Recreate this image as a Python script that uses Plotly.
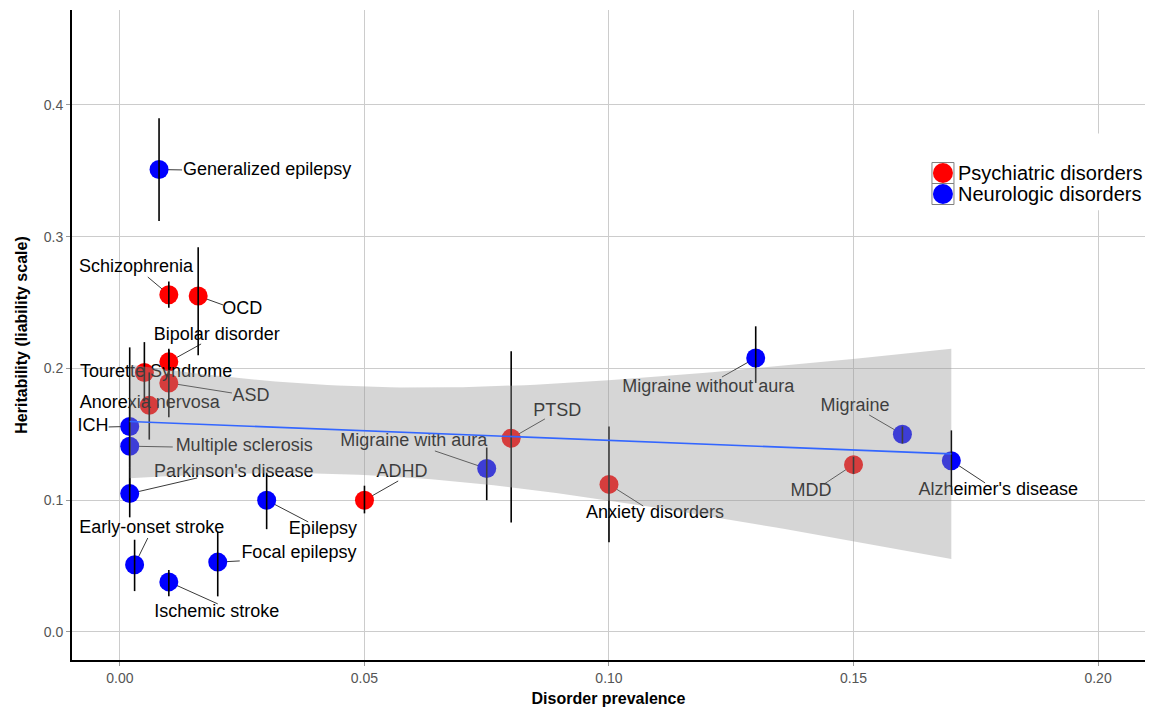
import numpy as np
import plotly.graph_objects as go

# Disorders: prevalence vs SNP heritability (liability scale) with 95% intervals
disorders = [
    "Generalized epilepsy", "Schizophrenia", "OCD", "Bipolar disorder",
    "Tourette Syndrome", "ASD", "Anorexia nervosa", "ICH",
    "Multiple sclerosis", "Parkinson's disease", "Early-onset stroke",
    "Ischemic stroke", "Focal epilepsy", "Epilepsy", "ADHD",
    "Migraine with aura", "PTSD", "Anxiety disorders",
    "Migraine without aura", "Migraine", "MDD", "Alzheimer's disease",
]
group = [
    "Neurologic", "Psychiatric", "Psychiatric", "Psychiatric",
    "Psychiatric", "Psychiatric", "Psychiatric", "Neurologic",
    "Neurologic", "Neurologic", "Neurologic",
    "Neurologic", "Neurologic", "Neurologic", "Psychiatric",
    "Neurologic", "Psychiatric", "Psychiatric",
    "Neurologic", "Neurologic", "Psychiatric", "Neurologic",
]
prevalence = [
    0.008, 0.010, 0.016, 0.010,
    0.005, 0.010, 0.006, 0.002,
    0.002, 0.002, 0.003,
    0.010, 0.020, 0.030, 0.050,
    0.075, 0.080, 0.100,
    0.130, 0.160, 0.150, 0.170,
]
heritability = [
    0.351, 0.256, 0.255, 0.205,
    0.197, 0.189, 0.172, 0.156,
    0.141, 0.105, 0.051,
    0.038, 0.053, 0.100, 0.100,
    0.124, 0.147, 0.112,
    0.208, 0.150, 0.127, 0.130,
]
h2_low = [
    0.312, 0.246, 0.210, 0.195,
    0.175, 0.163, 0.146, 0.125,
    0.110, 0.087, 0.031,
    0.027, 0.027, 0.078, 0.090,
    0.100, 0.083, 0.068,
    0.189, 0.143, 0.120, 0.110,
]
h2_high = [
    0.390, 0.266, 0.292, 0.215,
    0.220, 0.214, 0.197, 0.216,
    0.172, 0.125, 0.070,
    0.047, 0.076, 0.121, 0.111,
    0.140, 0.213, 0.156,
    0.232, 0.156, 0.133, 0.153,
]

# Repelled label placement (label centre) and where each leader line meets the label
label_x = [
    0.0301, 0.0033, 0.0250, 0.0198,
    0.0074, 0.0268, 0.0061, -0.0055,
    0.0254, 0.0233, 0.0065,
    0.0198, 0.0366, 0.0415, 0.0577,
    0.0601, 0.0894, 0.1094,
    0.1203, 0.1503, 0.1413, 0.1796,
]
label_y = [
    0.3499, 0.2770, 0.2444, 0.2254,
    0.1973, 0.1791, 0.1731, 0.1556,
    0.1404, 0.1214, 0.0782,
    0.0144, 0.0592, 0.0774, 0.1214,
    0.1442, 0.1677, 0.0896,
    0.1852, 0.1708, 0.1063, 0.1070,
]
leader_x = [
    0.0127, 0.0057, 0.0211, 0.0166,
    None, 0.0229, None, -0.0023,
    0.0108, 0.0158, 0.0057,
    0.0200, 0.0245, 0.0385, 0.0569,
    0.0644, 0.0869, 0.1070,
    0.1231, 0.1532, 0.1440, 0.1769,
]
leader_y = [
    0.3507, 0.2694, 0.2482, 0.2186,
    None, 0.1814, None, 0.1556,
    0.1404, 0.1169, 0.0713,
    0.0213, 0.0539, 0.0835, 0.1146,
    0.1374, 0.1617, 0.0956,
    0.1935, 0.1647, 0.1123, 0.1131,
]

legend_groups = ["Psychiatric", "Neurologic"]
legend_names = ["Psychiatric disorders", "Neurologic disorders"]
legend_colors = ["#ff0000", "#0000ff"]

FONT = "Liberation Sans, Arial, sans-serif"
fig = go.Figure()

# leader lines (drawn under the points)
seg_x, seg_y = [], []
for px, py, lx, ly in zip(prevalence, heritability, leader_x, leader_y):
    if lx is None:
        continue
    seg_x += [px, lx, None]
    seg_y += [py, ly, None]
fig.add_trace(go.Scatter(
    x=seg_x, y=seg_y, mode="lines",
    line=dict(color="#3a3a3a", width=1), hoverinfo="skip", showlegend=False,
))

# points, one trace per disorder group
for key, name, color in zip(legend_groups, legend_names, legend_colors):
    idx = [i for i, g in enumerate(group) if g == key]
    fig.add_trace(go.Scatter(
        x=[prevalence[i] for i in idx],
        y=[heritability[i] for i in idx],
        text=[disorders[i] for i in idx],
        mode="markers", name=name, showlegend=False,
        marker=dict(color=color, size=19, line=dict(width=0)),
        hovertemplate="%{text}<br>prevalence %{x}<br>h2 %{y}<extra></extra>",
    ))

# vertical interval bars
bar_x, bar_y = [], []
for px, lo, hi in zip(prevalence, h2_low, h2_high):
    bar_x += [px, px, None]
    bar_y += [lo, hi, None]
fig.add_trace(go.Scatter(
    x=bar_x, y=bar_y, mode="lines",
    line=dict(color="#000000", width=1.6), hoverinfo="skip", showlegend=False,
))

# disorder names
fig.add_trace(go.Scatter(
    x=label_x, y=label_y, text=disorders, mode="text",
    textposition="middle center",
    textfont=dict(family=FONT, size=18, color="#000000"),
    hoverinfo="skip", showlegend=False,
))

# least-squares fit with 95% confidence band
x = np.asarray(prevalence)
y = np.asarray(heritability)
n = len(x)
slope, intercept = np.polyfit(x, y, 1)
resid = y - (intercept + slope * x)
s = np.sqrt(np.sum(resid ** 2) / (n - 2))
sxx = np.sum((x - x.mean()) ** 2)
t_crit = 2.086  # t(0.975, df = 20)
xs = np.linspace(x.min(), x.max(), 80)
fit = intercept + slope * xs
half = t_crit * s * np.sqrt(1.0 / n + (xs - x.mean()) ** 2 / sxx)

fig.add_trace(go.Scatter(
    x=np.concatenate([xs, xs[::-1]]),
    y=np.concatenate([fit + half, (fit - half)[::-1]]),
    mode="lines", fill="toself", fillcolor="rgba(153,153,153,0.4)",
    line=dict(width=0), hoverinfo="skip", showlegend=False,
))
fig.add_trace(go.Scatter(
    x=xs, y=fit, mode="lines",
    line=dict(color="#3366ff", width=1.6), hoverinfo="skip", showlegend=False,
))

# legend box: white panel, bordered keys with a filled circle, and labels
shapes = [dict(
    type="rect", xref="paper", yref="paper", layer="above",
    x0=0.795, x1=1.0, y0=0.692, y1=0.81,
    fillcolor="white", line=dict(width=0),
)]
annotations = []
key_x = 0.8117            # key centre (paper)
key_y = [0.7492, 0.7169]  # row centres (paper)
for ky, name, color in zip(key_y, legend_names, legend_colors):
    shapes.append(dict(
        type="rect", xref="paper", yref="paper", layer="above",
        xsizemode="pixel", ysizemode="pixel", xanchor=key_x, yanchor=ky,
        x0=-11, x1=11, y0=-10.5, y1=10.5,
        fillcolor="white", line=dict(color="#7f7f7f", width=1),
    ))
    shapes.append(dict(
        type="circle", xref="paper", yref="paper", layer="above",
        xsizemode="pixel", ysizemode="pixel", xanchor=key_x, yanchor=ky,
        x0=-10, x1=10, y0=-10, y1=10,
        fillcolor=color, line=dict(width=0),
    ))
    annotations.append(dict(
        xref="paper", yref="paper", x=0.8238, y=ky,
        xanchor="left", yanchor="middle", showarrow=False,
        text=name, font=dict(family=FONT, size=20, color="#000000"),
    ))

x_ticks = [0.0, 0.05, 0.10, 0.15, 0.20]
x_ticktext = ["0.00", "0.05", "0.10", "0.15", "0.20"]
y_ticks = [0.0, 0.1, 0.2, 0.3, 0.4]
y_ticktext = ["0.0", "0.1", "0.2", "0.3", "0.4"]

axis_common = dict(
    showgrid=True, gridcolor="#cccccc", gridwidth=1.3,
    zeroline=False, showline=True, linecolor="#000000", linewidth=2,
    ticks="outside", ticklen=4, tickcolor="#999999", tickwidth=1,
    tickfont=dict(family=FONT, size=14, color="#555555"),
)

fig.update_layout(
    width=1151, height=713,
    margin=dict(l=72, r=6, t=10, b=53),
    plot_bgcolor="white", paper_bgcolor="white",
    font=dict(family=FONT),
    showlegend=False,
    shapes=shapes,
    annotations=annotations,
    xaxis=dict(
        range=[-0.0098, 0.2096], tickmode="array",
        tickvals=x_ticks, ticktext=x_ticktext,
        title=dict(text="<b>Disorder prevalence</b>",
                   font=dict(family=FONT, size=16, color="#000000"), standoff=8),
        **axis_common,
    ),
    yaxis=dict(
        range=[-0.0213, 0.4721], tickmode="array",
        tickvals=y_ticks, ticktext=y_ticktext,
        title=dict(text="<b>Heritability (liability scale)</b>",
                   font=dict(family=FONT, size=16, color="#000000"), standoff=12),
        **axis_common,
    ),
)

fig.write_html("out.html")
